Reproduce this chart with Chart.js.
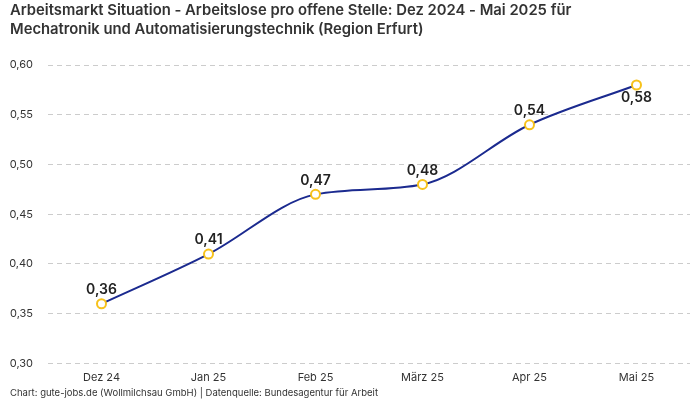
<!DOCTYPE html>
<html><head><meta charset="utf-8">
<script src="https://cdn.jsdelivr.net/npm/chart.js@4/dist/chart.umd.min.js"></script>
<style>html,body{margin:0;padding:0;background:#fff}#wrap{width:700px;height:400px}</style>
</head><body><div id="wrap"><canvas id="c"></canvas></div>
<script>
const categories = ["Dez 24", "Jan 25", "Feb 25", "März 25", "Apr 25", "Mai 25"];
const values = [0.36, 0.41, 0.47, 0.48, 0.54, 0.58];
const labelBelow = [false, false, false, false, false, true];
const titleLines = ["Arbeitsmarkt Situation - Arbeitslose pro offene Stelle: Dez 2024 - Mai 2025 für", "Mechatronik und Automatisierungstechnik (Region Erfurt)"];
const footerText = "Chart: gute-jobs.de (Wollmilchsau GmbH) | Datenquelle: Bundesagentur für Arbeit";
const FONT = "Inter, 'Noto Sans', sans-serif";
const fmt = v => v.toFixed(2).replace('.', ',');

const valueLabels = {
  id: 'valueLabels',
  afterDatasetsDraw(chart) {
    const ctx = chart.ctx;
    const meta = chart.getDatasetMeta(0);
    ctx.save();
    ctx.font = "600 14px " + FONT;
    ctx.fillStyle = "#222";
    ctx.textAlign = "center";
    meta.data.forEach((pt, i) => {
      const below = labelBelow[i];
      ctx.textBaseline = below ? "top" : "bottom";
      ctx.fillText(fmt(values[i]), pt.x, below ? pt.y + 6 : pt.y - 7);
    });
    ctx.restore();
  }
};

new Chart(document.getElementById('c'), {
  type: 'line',
  data: {
    labels: categories,
    datasets: [{
      data: values,
      borderColor: '#1b2a8f',
      borderWidth: 2,
      cubicInterpolationMode: 'monotone',
      pointRadius: 4.5,
      pointHoverRadius: 4.5,
      pointBackgroundColor: '#fff',
      pointBorderColor: '#f7c21b',
      pointBorderWidth: 2
    }]
  },
  options: {
    responsive: true,
    maintainAspectRatio: false,
    animation: false,
    layout: { padding: { left: 10, right: 10, top: 0, bottom: 0 } },
    plugins: {
      legend: { display: false },
      tooltip: { enabled: false },
      title: {
        display: true, text: titleLines, align: 'start',
        color: '#333', font: { family: FONT, size: 14.8, weight: '600', lineHeight: 1.22 },
        padding: { top: 2, bottom: 27 }
      },
      subtitle: {
        display: true, text: footerText, position: 'bottom', align: 'start',
        color: '#333', font: { family: FONT, size: 9.5 },
        padding: { top: 3, bottom: 1 }
      }
    },
    scales: {
      x: {
        offset: true,
        grid: { display: false },
        border: { display: false },
        ticks: { color: '#333', font: { family: FONT, size: 11 }, padding: 0 }
      },
      y: {
        min: 0.30, max: 0.60,
        afterFit(scale) { scale.width = 38; },
        grid: { color: '#cccccc', drawTicks: false },
        border: { display: false, dash: [5, 4] },
        ticks: { stepSize: 0.05, color: '#333', font: { family: FONT, size: 11 }, padding: 15,
          callback: v => fmt(v) }
      }
    }
  },
  plugins: [valueLabels]
});
</script></body></html>
